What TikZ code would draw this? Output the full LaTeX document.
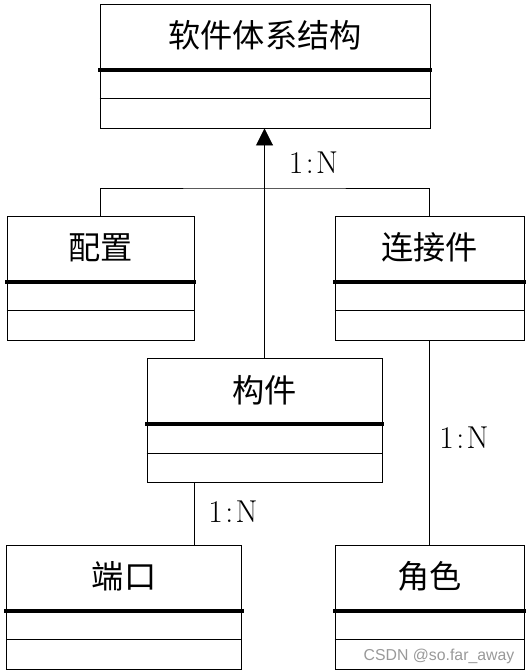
\documentclass[tikz,border=0pt]{standalone}
\usepackage{fontspec}
\usepackage{tikz}
\usetikzlibrary{arrows.meta}
\newfontfamily\cjk{Noto Sans CJK SC}
\setsansfont{Liberation Sans}

\begin{document}
\begin{tikzpicture}[x=0.3mm, y=-0.3mm, line width=0.8pt,
	classbox/.style={draw, rectangle, inner sep=0pt, minimum height=37.2mm},
	classname/.style={inner sep=0pt, font=\cjk\fontsize{27.5}{30}\selectfont},
	ratio/.style={inner sep=0pt, font=\fontsize{27}{30}\selectfont}]
	\useasboundingbox (0,0) rectangle (530,670);

	\node[classbox, minimum width=99mm] (arch) at (265,66) {};
	\node[classbox, minimum width=56.1mm] (config) at (100.5,278) {};
	\node[classbox, minimum width=56.7mm] (conn) at (429.5,278) {};
	\node[classbox, minimum width=70.5mm] (comp) at (264.5,420.5) {};
	\node[classbox, minimum width=70.5mm] (port) at (124,607) {};
	\node[classbox, minimum width=56.7mm] (role) at (429.5,607) {};

	\node[classname] (archName) at ([yshift=-9.6mm]arch.north) {软件体系结构};
	\node[classname] (configName) at ([yshift=-9.6mm]config.north) {配置};
	\node[classname] (connName) at ([yshift=-9.6mm]conn.north) {连接件};
	\node[classname] (compName) at ([yshift=-9.6mm]comp.north) {构件};
	\node[classname] (portName) at ([yshift=-9.6mm]port.north) {端口};
	\node[classname] (roleName) at ([yshift=-9.6mm]role.north) {角色};

	% compartments
	\foreach \n in {arch,config,conn,comp,port,role} {
		\draw[line width=1.2mm, line cap=rect] ([yshift=-19.8mm]\n.north west) -- ([yshift=-19.8mm]\n.north east);
		\draw ([yshift=-28.5mm]\n.north west) -- ([yshift=-28.5mm]\n.north east);
	}

	\coordinate (join) at (264,188);
	\draw[-{Triangle[width=5.1mm, length=5.1mm]}] (comp.north) -- (comp.north |- arch.south);
	\draw (config.north) |- (join) -| (conn.north);
	\draw ([xshift=-21.15mm]comp.south) -- ([xshift=-21.15mm]comp.south |- port.north);
	\draw (conn.south) -- (role.north);

	\node[ratio] (archRatio) at (313.5,163) {1\kern2pt:\kern2pt N};
	\node[ratio] (roleRatio) at (464,438) {1\kern2pt:\kern2pt N};
	\node[ratio] (portRatio) at (233,511.5) {1\kern2pt:\kern2pt N};

	\node[inner sep=0pt, text=black!40, font=\sffamily\fontsize{13.5}{15}\selectfont] (mark) at (439,656) {CSDN @so.far\_away};
\end{tikzpicture}
\end{document}
